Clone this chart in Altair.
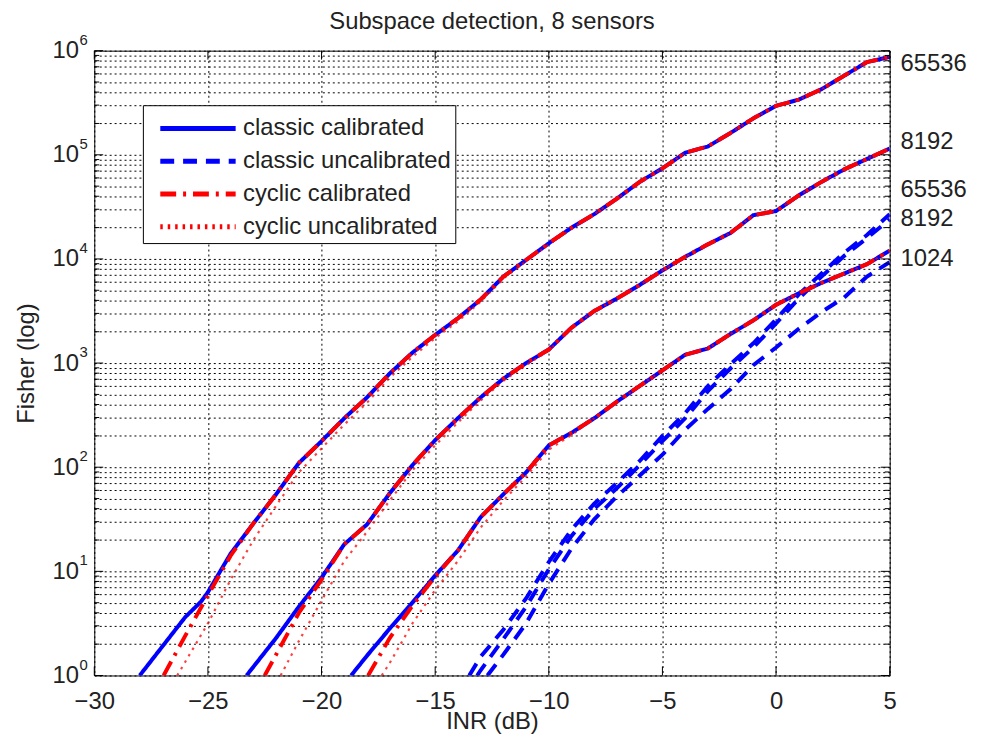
import altair as alt
import pandas as pd

FONT = "Liberation Sans"
TITLE = "Subspace detection, 8 sensors"
X_TITLE = "INR (dB)"
Y_TITLE = "Fisher (log)"
SERIES = ["classic calibrated", "classic uncalibrated", "cyclic calibrated", "cyclic uncalibrated"]
COLORS = ["#0000ff", "#0000ff", "#ff0000", "#ff0000"]
DASHES = [[1, 0], [14, 9], [16, 7, 3, 7], [2.5, 5]]
WIDTHS = [4, 4, 4, 2.2]

X_TICKS = [-30, -25, -20, -15, -10, -5, 0, 5]
DECADES = [1, 10, 100, 1000, 10000, 100000, 1000000]
DECADE_EXP = ["0", "1", "2", "3", "4", "5", "6"]
Y_MINOR = [2, 3, 4, 5, 6, 7, 8, 9, 20, 30, 40, 50, 60, 70, 80, 90,
           200, 300, 400, 500, 600, 700, 800, 900,
           2000, 3000, 4000, 5000, 6000, 7000, 8000, 9000,
           20000, 30000, 40000, 50000, 60000, 70000, 80000, 90000,
           200000, 300000, 400000, 500000, 600000, 700000, 800000, 900000]

# ---- classic calibrated (solid blue); Fisher given as log10 values
cc_65536_x = [-28, -27, -26, -25.3, -25, -24, -23, -22, -21, -20, -19, -18, -17, -16, -15, -14, -13, -12,
              -11, -10, -9, -8, -7, -6, -5, -4, -3, -2, -1, 0, 1, 2, 3, 4, 5]
cc_65536_log = [0.00, 0.28, 0.56, 0.71, 0.80, 1.17, 1.46, 1.74, 2.04, 2.25, 2.47, 2.67, 2.90, 3.10, 3.27,
                3.43, 3.61, 3.83, 3.99, 4.15, 4.30, 4.43, 4.58, 4.74, 4.87, 5.02, 5.08, 5.21, 5.35, 5.47,
                5.53, 5.63, 5.76, 5.89, 5.94]
cc_8192_x = [-23.3, -22, -21, -20, -19, -18, -17, -16, -15, -14, -13, -12, -11, -10, -9, -8, -7, -6,
             -5, -4, -3, -2, -1, 0, 1, 2, 3, 4, 5]
cc_8192_log = [0.00, 0.36, 0.66, 0.94, 1.26, 1.45, 1.75, 2.02, 2.26, 2.47, 2.67, 2.85, 3.00, 3.13, 3.34,
               3.50, 3.62, 3.75, 3.89, 4.02, 4.14, 4.25, 4.42, 4.46, 4.61, 4.74, 4.86, 4.96, 5.06]
cc_1024_x = [-18.7, -18, -17, -16, -15, -14, -13, -12, -11, -10, -9, -8, -7, -6, -5, -4, -3, -2, -1,
             0, 1, 2, 3, 4, 5]
cc_1024_log = [0.00, 0.19, 0.45, 0.70, 0.96, 1.20, 1.52, 1.74, 1.95, 2.21, 2.33, 2.47, 2.63, 2.78, 2.93,
               3.08, 3.14, 3.28, 3.41, 3.56, 3.67, 3.77, 3.86, 3.95, 4.08]

# ---- classic uncalibrated (dashed blue)
clu_65536_x = [-13.5, -13, -12, -11, -10, -9, -8, -7, -6, -5, -4, -3, -2, -1, 0, 1, 2, 3, 4, 5]
clu_65536_log = [0.00, 0.18, 0.44, 0.74, 1.09, 1.40, 1.65, 1.85, 2.06, 2.30, 2.52, 2.78, 2.99, 3.19,
                 3.42, 3.66, 3.86, 4.06, 4.23, 4.43]
clu_8192_x = [-13.15, -13, -12, -11, -10, -9, -8, -7, -6, -5, -4, -3, -2, -1, 0, 1, 2, 3, 4, 5]
clu_8192_log = [0.00, 0.05, 0.35, 0.66, 1.02, 1.34, 1.60, 1.80, 2.02, 2.25, 2.47, 2.73, 2.95, 3.15,
                3.38, 3.62, 3.83, 4.03, 4.20, 4.38]
clu_1024_x = [-12.7, -12, -11, -10, -9, -8, -7, -6, -5, -4, -3, -2, -1, 0, 1, 2, 3, 4, 5]
clu_1024_log = [0.00, 0.20, 0.50, 0.88, 1.22, 1.50, 1.72, 1.92, 2.12, 2.36, 2.56, 2.75, 2.98, 3.15,
                3.33, 3.49, 3.63, 3.83, 3.97]

# ---- cyclic calibrated (red dash-dot)
cy_65536_x = [-26.95, -26, -25, -24, -23, -22, -21, -20, -19, -18, -17, -16, -15, -14, -13, -12, -11,
              -10, -9, -8, -7, -6, -5, -4, -3, -2, -1, 0, 1, 2, 3, 4, 5]
cy_65536_log = [0.00, 0.38, 0.77, 1.15, 1.46, 1.74, 2.04, 2.25, 2.47, 2.67, 2.90, 3.10, 3.27, 3.43, 3.61,
                3.83, 3.99, 4.15, 4.30, 4.43, 4.58, 4.74, 4.87, 5.02, 5.08, 5.21, 5.35, 5.47, 5.53, 5.63,
                5.76, 5.89, 5.94]
cy_8192_x = [-22.5, -22, -21, -20, -19, -18, -17, -16, -15, -14, -13, -12, -11, -10, -9, -8, -7, -6,
             -5, -4, -3, -2, -1, 0, 1, 2, 3, 4, 5]
cy_8192_log = [0.00, 0.20, 0.60, 0.92, 1.26, 1.45, 1.75, 2.02, 2.26, 2.47, 2.67, 2.85, 3.00, 3.13, 3.34,
               3.50, 3.62, 3.75, 3.89, 4.02, 4.14, 4.25, 4.42, 4.46, 4.61, 4.74, 4.86, 4.96, 5.06]
cy_1024_x = [-17.95, -17, -16, -15, -14, -13, -12, -11, -10, -9, -8, -7, -6, -5, -4, -3, -2, -1, 0, 1,
             2, 3, 4, 5]
cy_1024_log = [0.00, 0.36, 0.67, 0.95, 1.20, 1.52, 1.74, 1.95, 2.21, 2.33, 2.47, 2.63, 2.78, 2.93, 3.08,
               3.14, 3.28, 3.41, 3.56, 3.67, 3.77, 3.86, 3.95, 4.08]

# ---- cyclic uncalibrated (red dotted)
cu_65536_x = [-26.35, -26, -25, -24, -23, -22, -21, -20, -19, -18, -17, -16, -15, -14, -13, -12, -11,
              -10, -9, -8, -7, -6, -5, -4, -3, -2, -1, 0, 1, 2, 3, 4, 5]
cu_65536_log = [0.00, 0.13, 0.50, 0.92, 1.30, 1.63, 1.95, 2.18, 2.41, 2.62, 2.86, 3.06, 3.24, 3.40, 3.59,
                3.81, 3.98, 4.14, 4.29, 4.43, 4.58, 4.74, 4.87, 5.02, 5.08, 5.21, 5.35, 5.47, 5.53, 5.63,
                5.76, 5.89, 5.94]
cu_8192_x = [-21.8, -21, -20, -19, -18, -17, -16, -15, -14, -13, -12, -11, -10, -9, -8, -7, -6, -5, -4,
             -3, -2, -1, 0, 1, 2, 3, 4, 5]
cu_8192_log = [0.00, 0.33, 0.72, 1.10, 1.38, 1.68, 1.97, 2.21, 2.43, 2.64, 2.83, 2.98, 3.12, 3.34, 3.50,
               3.62, 3.75, 3.89, 4.02, 4.14, 4.25, 4.42, 4.46, 4.61, 4.74, 4.86, 4.96, 5.06]
cu_1024_x = [-17.35, -17, -16, -15, -14, -13, -12, -11, -10, -9, -8, -7, -6, -5, -4, -3, -2, -1, 0, 1,
             2, 3, 4, 5]
cu_1024_log = [0.00, 0.12, 0.50, 0.82, 1.10, 1.42, 1.68, 1.91, 2.17, 2.31, 2.47, 2.63, 2.78, 2.93, 3.08,
               3.14, 3.28, 3.41, 3.56, 3.67, 3.77, 3.86, 3.95, 4.08]

# ---- sample-size annotations at the right edge
END_LABELS = ["65536", "8192", "65536", "8192", "1024"]
END_LABEL_LOG = [5.87, 5.12, 4.66, 4.38, 4.00]
END_LABEL_INR = [5, 5, 5, 5, 5]

curves = [
    ("classic calibrated", "65536", cc_65536_x, cc_65536_log),
    ("classic calibrated", "8192", cc_8192_x, cc_8192_log),
    ("classic calibrated", "1024", cc_1024_x, cc_1024_log),
    ("classic uncalibrated", "65536", clu_65536_x, clu_65536_log),
    ("classic uncalibrated", "8192", clu_8192_x, clu_8192_log),
    ("classic uncalibrated", "1024", clu_1024_x, clu_1024_log),
    ("cyclic calibrated", "65536", cy_65536_x, cy_65536_log),
    ("cyclic calibrated", "8192", cy_8192_x, cy_8192_log),
    ("cyclic calibrated", "1024", cy_1024_x, cy_1024_log),
    ("cyclic uncalibrated", "65536", cu_65536_x, cu_65536_log),
    ("cyclic uncalibrated", "8192", cu_8192_x, cu_8192_log),
    ("cyclic uncalibrated", "1024", cu_1024_x, cu_1024_log),
]
rows = []
for s, n, xs, ls in curves:
    for i, (x, l) in enumerate(zip(xs, ls)):
        rows.append({"series": s, "samples": n, "order": i, "inr": x, "fisher": 10 ** l})
df = pd.DataFrame(rows)

W, H = 802, 630

x_scale = alt.Scale(domain=[-30, 5], nice=False, zero=False)
y_scale = alt.Scale(type="log", domain=[1, 1000000], nice=False)
x_axis = alt.Axis(values=X_TICKS, title=X_TITLE, grid=True, labelFlush=False,
                  labelPadding=14, titlePadding=-4, labelOverlap=False)
y_axis = alt.Axis(values=DECADES + Y_MINOR, title=Y_TITLE, grid=True, labelFlush=False,
                  labelOverlap=False, labelPadding=16, titlePadding=14,
                  labelExpr="indexof([1,10,100,1000,10000,100000,1000000], datum.value) >= 0 ? '10' : ''")
x_enc = alt.X("inr:Q", scale=x_scale, axis=x_axis)
y_enc = alt.Y("fisher:Q", scale=y_scale, axis=y_axis)

legend = alt.Legend(title=None, orient="none", legendX=49, legendY=55)
color_enc = alt.Color("series:N", scale=alt.Scale(domain=SERIES, range=COLORS), legend=legend)
dash_enc = alt.StrokeDash("series:N", scale=alt.Scale(domain=SERIES, range=DASHES), legend=legend)

layers = []
for s, w in zip(SERIES, WIDTHS):
    layers.append(
        alt.Chart(df[df["series"] == s]).mark_line(strokeWidth=w, clip=True,
                                                   opacity=0.75 if w < 3 else 1)
        .encode(x=x_enc, y=y_enc, color=color_enc, strokeDash=dash_enc,
                detail="samples:N", order="order:Q")
    )

# inside tick marks (MATLAB style box)
xt = pd.DataFrame({"inr": X_TICKS})
ticks_bottom = alt.Chart(xt).mark_rule(color="black", strokeWidth=1).encode(
    x=x_enc, y=alt.value(H), y2=alt.value(H - 9))
ticks_top = alt.Chart(xt).mark_rule(color="black", strokeWidth=1).encode(
    x=x_enc, y=alt.value(0), y2=alt.value(9))
yd = pd.DataFrame({"fisher": DECADES, "exp": DECADE_EXP})
ym = pd.DataFrame({"fisher": Y_MINOR})
ticks_left_major = alt.Chart(yd).mark_rule(color="black").encode(
    y=y_enc, x=alt.value(0), x2=alt.value(9))
ticks_right_major = alt.Chart(yd).mark_rule(color="black").encode(
    y=y_enc, x=alt.value(W), x2=alt.value(W - 9))
ticks_left_minor = alt.Chart(ym).mark_rule(color="black").encode(
    y=y_enc, x=alt.value(0), x2=alt.value(5))
ticks_right_minor = alt.Chart(ym).mark_rule(color="black").encode(
    y=y_enc, x=alt.value(W), x2=alt.value(W - 5))

superscripts = alt.Chart(yd).mark_text(align="left", baseline="middle", font=FONT, fontSize=15,
                                       dy=-11, color="#222222").encode(
    y=y_enc, x=alt.value(-15), text="exp:N")

end_df = pd.DataFrame({"inr": END_LABEL_INR, "fisher": [10 ** v for v in END_LABEL_LOG],
                       "label": END_LABELS})
end_labels = alt.Chart(end_df).mark_text(align="left", baseline="middle", font=FONT, fontSize=24,
                                         dx=11, color="#222222").encode(
    x=x_enc, y=y_enc, text="label:N")

# legend symbol: a 76 px horizontal stroke drawn to the right of the (34 px) symbol cell
LEGEND_PATH = "M-0.35,0 H4.12"

chart = alt.layer(
    *layers, ticks_bottom, ticks_top, ticks_left_major, ticks_right_major,
    ticks_left_minor, ticks_right_minor, superscripts, end_labels
).properties(
    width=W, height=H,
    title=alt.TitleParams(TITLE, anchor="middle", offset=-1, frame="group"),
    autosize=alt.AutoSizeParams(type="none"),
    padding={"left": 87, "top": 40, "right": 84, "bottom": 59},
).configure_view(
    stroke="black", strokeWidth=1
).configure_axis(
    labelFont=FONT, titleFont=FONT, labelFontSize=24, titleFontSize=24,
    labelColor="#222222", titleColor="#222222", titleFontWeight="normal",
    domain=False, ticks=False, tickSize=0,
    gridColor="black", gridDash=[2, 3], gridOpacity=1, gridWidth=1,
).configure_title(
    font=FONT, fontSize=24, fontWeight="normal", color="#222222"
).configure_legend(
    fillColor="white", strokeColor="black", padding=4, rowPadding=1,
    labelFont=FONT, labelFontSize=24, labelColor="#222222", labelOffset=58, labelLimit=500,
    symbolType=LEGEND_PATH, symbolSize=1156, symbolStrokeWidth=5,
)

chart.save("out.html", embed_options={"renderer": "svg", "actions": False})
